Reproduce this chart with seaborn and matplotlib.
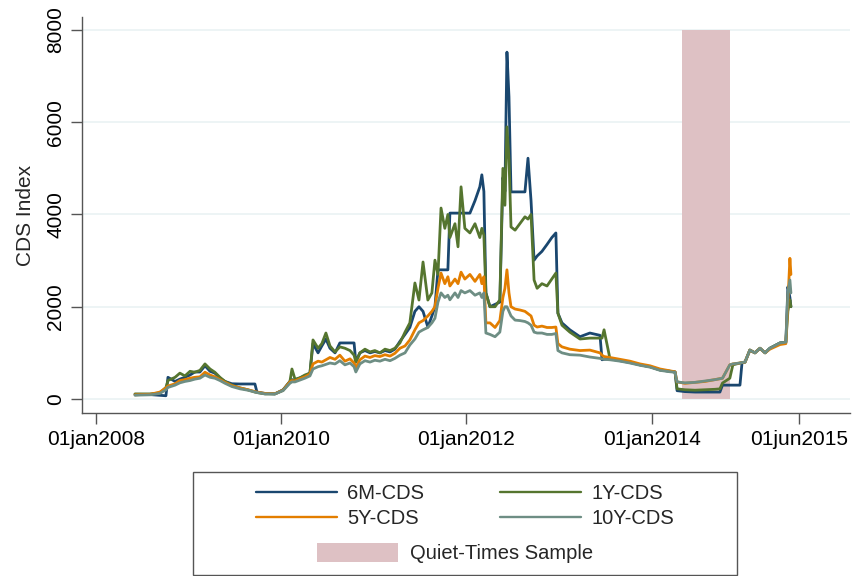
import matplotlib
matplotlib.use("Agg")
import matplotlib.pyplot as plt
from matplotlib.lines import Line2D
from matplotlib.patches import Patch, Rectangle
import pandas as pd
import seaborn as sns

dates = [
    "2008-06-03", "2008-06-23", "2008-08-01", "2008-09-09", "2008-10-03", "2008-10-11",
    "2008-11-08", "2008-11-27", "2008-12-17", "2009-01-06", "2009-01-25", "2009-02-14",
    "2009-03-06", "2009-03-26", "2009-04-14", "2009-05-04", "2009-05-24", "2009-06-20",
    "2009-07-22", "2009-08-22", "2009-09-19", "2009-09-27", "2009-10-29", "2009-12-07",
    "2010-01-08", "2010-02-04", "2010-02-12", "2010-02-24", "2010-03-16", "2010-04-04",
    "2010-04-24", "2010-05-06", "2010-05-26", "2010-06-10", "2010-06-26", "2010-07-12",
    "2010-08-01", "2010-08-20", "2010-09-09", "2010-09-29", "2010-10-15", "2010-10-22",
    "2010-11-07", "2010-11-27", "2010-12-17", "2011-01-05", "2011-01-25", "2011-02-14",
    "2011-03-06", "2011-03-25", "2011-04-14", "2011-05-04", "2011-05-23", "2011-06-12",
    "2011-06-28", "2011-07-14", "2011-08-02", "2011-08-18", "2011-08-30", "2011-09-11",
    "2011-09-23", "2011-10-08", "2011-10-20", "2011-10-28", "2011-11-17", "2011-11-29",
    "2011-12-11", "2011-12-26", "2012-01-15", "2012-02-04", "2012-02-23", "2012-03-02",
    "2012-03-10", "2012-03-18", "2012-04-03", "2012-04-23", "2012-05-12", "2012-05-24",
    "2012-06-01", "2012-06-09", "2012-06-17", "2012-06-25", "2012-07-11", "2012-07-30",
    "2012-08-19", "2012-08-31", "2012-09-12", "2012-09-24", "2012-10-06", "2012-10-25",
    "2012-11-14", "2012-12-03", "2012-12-19", "2012-12-27", "2013-01-12", "2013-02-12",
    "2013-03-24", "2013-05-02", "2013-06-11", "2013-06-19", "2013-06-27", "2013-07-20",
    "2013-08-29", "2013-10-07", "2013-11-16", "2013-12-25", "2014-02-03", "2014-03-14",
    "2014-04-03", "2014-04-11", "2014-05-12", "2014-06-21", "2014-07-30", "2014-09-08",
    "2014-09-27", "2014-10-07", "2014-11-05", "2014-11-17", "2014-12-15", "2014-12-23",
    "2015-01-04", "2015-01-23", "2015-02-12", "2015-03-04", "2015-03-24", "2015-04-12",
    "2015-05-22", "2015-06-14", "2015-06-22", "2015-06-30", "2015-07-04",
]

cds_6m = [
    100, 100, 95, 80, 70, 470,
    380, 430, 470, 520, 585, 585,
    720, 600, 560, 450, 380, 330,
    325, 325, 325, 150, 120, 110,
    200, 380, 420, 400, 460, 500,
    560, 1200, 1000, 1150, 1300, 1100,
    1000, 1215, 1215, 1215, 1215, 800,
    1000, 1050, 1000, 1030, 1000, 1050,
    1020, 1080, 1250, 1400, 1550, 1900,
    2000, 1900, 1560, 1800, 2000, 2800,
    2800, 2800, 2800, 4030, 4030, 4030,
    4030, 4030, 4030, 4300, 4600, 4860,
    4500, 2300, 2000, 2050, 2100, 4800,
    4500, 7520, 6550, 4490, 4490, 4490,
    4490, 5220, 4300, 3010, 3100, 3200,
    3350, 3500, 3600, 1860, 1650, 1500,
    1350, 1430, 1380, 850, 860, 870,
    830, 790, 740, 700, 630, 600,
    585, 180, 160, 150, 150, 150,
    150, 300, 300, 300, 300, 780,
    800, 1060, 1000, 1100, 1000, 1100,
    1215, 1230, 2430, 2200, 2000,
]

cds_1y = [
    110, 110, 110, 130, 250, 400,
    470, 560, 500, 600, 580, 620,
    760, 650, 580, 470, 380, 300,
    240, 200, 150, 140, 110, 110,
    190, 380, 650, 430, 460, 520,
    560, 1280, 1100, 1200, 1430, 1150,
    1020, 1130, 1100, 1050, 950, 800,
    1000, 1080, 1020, 1050, 1000, 1080,
    1050, 1100, 1215, 1450, 1650, 2515,
    2145, 2970, 2145, 2300, 3010, 2700,
    4140, 3700, 4000, 3500, 3800, 3300,
    4600, 3700, 3600, 3800, 3500, 3700,
    3550, 2300, 2000, 2000, 2150, 5000,
    4200, 5900, 5200, 3730, 3660, 3800,
    3950, 3900, 4000, 2580, 2400, 2500,
    2450, 2600, 2730, 1860, 1600, 1450,
    1300, 1320, 1320, 1320, 1500, 880,
    840, 800, 740, 700, 630, 600,
    585, 220, 200, 190, 200, 210,
    220, 345, 450, 740, 780, 790,
    800, 1060, 1000, 1100, 1000, 1100,
    1215, 1230, 1900, 2150, 2000,
]

cds_5y = [
    90, 95, 100, 150, 240, 280,
    330, 400, 420, 450, 470, 480,
    580, 520, 480, 420, 360, 290,
    240, 200, 160, 150, 120, 115,
    190, 370, 400, 390, 440, 480,
    540, 760, 820, 800, 850, 900,
    860, 950, 820, 870, 780, 670,
    850, 930, 900, 940, 920, 960,
    930, 990, 1100, 1150, 1280, 1500,
    1650, 1700, 1800, 1900, 2000, 2400,
    2730, 2500, 2650, 2450, 2600, 2500,
    2750, 2600, 2700, 2550, 2700, 2500,
    2650, 1650, 1650, 1550, 1700, 2200,
    2400, 2800, 2300, 2000, 1950, 1930,
    1900, 1850, 1800, 1600, 1560, 1580,
    1550, 1550, 1560, 1200, 1130, 1080,
    1050, 1060, 1000, 950, 920, 900,
    860, 820, 760, 720, 650, 610,
    590, 370, 340, 360, 380, 420,
    440, 450, 740, 760, 780, 790,
    800, 1060, 1000, 1100, 1000, 1080,
    1180, 1200, 2100, 3050, 2700,
]

cds_10y = [
    80, 85, 90, 120, 200, 250,
    300, 350, 380, 400, 430, 450,
    520, 470, 450, 400, 340, 270,
    220, 190, 150, 140, 110, 110,
    180, 340, 370, 370, 410, 450,
    500, 650, 700, 720, 750, 780,
    760, 830, 740, 780, 700, 585,
    760, 830, 800, 840, 820, 860,
    830, 880, 950, 1000, 1170, 1300,
    1450, 1500, 1550, 1650, 1750, 2100,
    2300, 2200, 2250, 2150, 2300, 2200,
    2350, 2300, 2350, 2250, 2300, 2200,
    2300, 1430, 1400, 1350, 1450, 1900,
    2000, 2000, 1900, 1800, 1710, 1700,
    1680, 1650, 1600, 1450, 1430, 1430,
    1400, 1400, 1420, 1050, 1000, 960,
    950, 910, 880, 870, 860, 850,
    820, 780, 730, 690, 620, 590,
    580, 370, 350, 360, 390, 420,
    440, 450, 740, 760, 780, 790,
    800, 1060, 1000, 1100, 1000, 1100,
    1215, 1230, 2300, 2580, 2300,
]

series_names = ["6M-CDS", "1Y-CDS", "5Y-CDS", "10Y-CDS"]
series_colors = ["#1a476f", "#55752f", "#e37e00", "#6e8e84"]
quiet_start, quiet_end = "2014-05-02", "2014-11-05"
y_ticks = [0, 2000, 4000, 6000, 8000]
x_tick_dates = ["2008-01-01", "2010-01-01", "2012-01-01", "2014-01-01", "2015-08-04"]
x_tick_labels = ["01jan2008", "01jan2010", "01jan2012", "01jan2014", "01jun2015"]

df = pd.DataFrame({
    "date": pd.to_datetime(dates * 4),
    "value": cds_6m + cds_1y + cds_5y + cds_10y,
    "series": sum([[n] * len(dates) for n in series_names], []),
})

sns.set_theme(style="white")
plt.rcParams["font.family"] = ["Liberation Sans", "DejaVu Sans"]

fig = plt.figure(figsize=(8.55, 5.76), dpi=100)
ax = fig.add_axes([82 / 855, 1 - 413 / 576, (850 - 82) / 855, (413 - 17) / 576])

ax.axvspan(pd.Timestamp(quiet_start), pd.Timestamp(quiet_end),
           ymin=(0 + 304) / 8586, ymax=(8000 + 304) / 8586,
           color="#dec1c4", lw=0, zorder=1)

sns.lineplot(data=df, x="date", y="value", hue="series", hue_order=series_names,
             palette=dict(zip(series_names, series_colors)), linewidth=2.0,
             legend=False, ax=ax, zorder=3, estimator=None, sort=True)

ax.set_ylim(-304, 8282)
ax.set_xlim(pd.Timestamp("2007-11-07"), pd.Timestamp("2016-02-22"))
ax.set_yticks(y_ticks)
ax.set_yticklabels([str(v) for v in y_ticks], rotation=90, va="center", fontsize=15)
ax.set_xticks([pd.Timestamp(d) for d in x_tick_dates])
ax.set_xticklabels(x_tick_labels, fontsize=15)
ax.grid(axis="y", color="#eaf2f3", lw=1.2)
ax.grid(axis="x", visible=False)
ax.set_xlabel("")
ax.set_ylabel("CDS Index", fontsize=15, labelpad=8)

for s in ["top", "right"]:
    ax.spines[s].set_visible(False)
for s in ["left", "bottom"]:
    ax.spines[s].set_color("#555555")
    ax.spines[s].set_linewidth(1.0)
ax.tick_params(axis="both", which="major", length=8, width=1, color="#555555",
               direction="out", bottom=True, left=True, pad=4, labelcolor="black")

# legend box
fig.patches.append(Rectangle((193 / 855, 1 - 575 / 576), (737 - 193) / 855, (575 - 472) / 576,
                             transform=fig.transFigure, fill=False, edgecolor="#555555",
                             lw=1.0, zorder=5))
order = [0, 2, 1, 3]  # column-major fill -> rows: 6M/1Y, 5Y/10Y
handles = [Line2D([], [], color=series_colors[i], lw=1.7) for i in order]
labels = [series_names[i] for i in order]
leg1 = fig.legend(handles, labels, ncol=2, frameon=False, fontsize=14.5,
                  handlelength=4.0, handletextpad=0.5, columnspacing=3.8, labelspacing=0.3,
                  loc="center", bbox_to_anchor=(465 / 855, 1 - 506 / 576))
leg2 = fig.legend([Patch(facecolor="#dec1c4", edgecolor="none")], ["Quiet-Times Sample"],
                  frameon=False, fontsize=14.5, handlelength=4.0, handleheight=1.1,
                  handletextpad=0.6, loc="center", bbox_to_anchor=(455 / 855, 1 - 553 / 576))

fig.savefig("out.png", dpi=100)
